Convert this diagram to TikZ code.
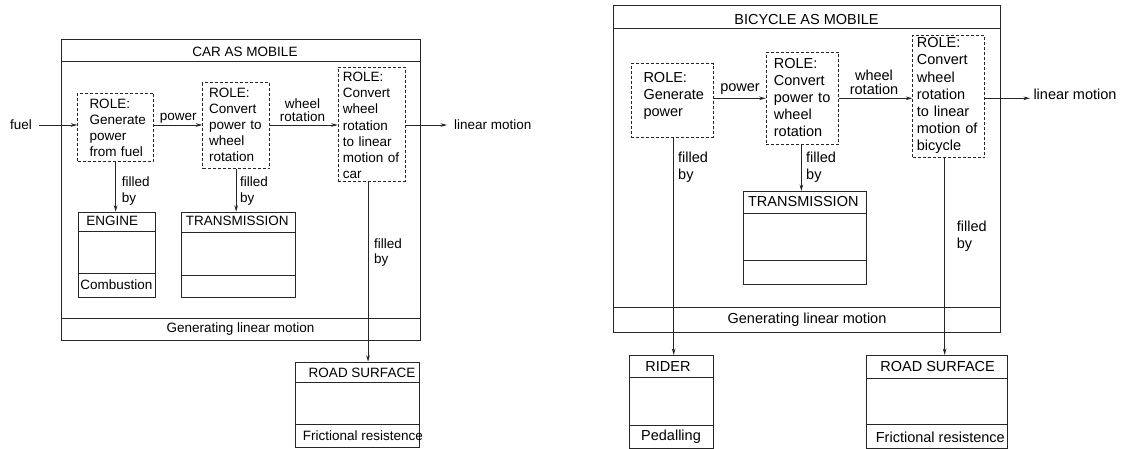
\documentclass[tikz,border=0pt]{standalone}
\usepackage{fontspec}
\setmainfont{Liberation Sans}
\usetikzlibrary{arrows.meta}
\newcommand\carfont{\fontsize{13.5}{16.2}\selectfont}
\newcommand\bikefont{\fontsize{14.5}{17.1}\selectfont}
\begin{document}
\begin{tikzpicture}[x=1pt,y=-1pt,
  ln/.style={line width=0.8pt, draw=black!85},
  outerbox/.style={ln, rectangle, inner sep=0pt, anchor=north west},
  clsbox/.style={ln, rectangle, inner sep=0pt, anchor=north west},
  rolebox/.style={draw=black!85, line width=0.7pt, dash pattern=on 3pt off 2pt, rectangle, inner sep=0pt, anchor=north west},
  mtxt/.style={inner sep=0pt, text width=90pt, align=left, anchor=base west},
  lbl/.style={inner sep=0pt},
  elbl/.style={inner sep=0pt, align=center},
  endlbl/.style={inner ysep=0pt},
  arr/.style={line width=0.8pt, draw=black!85, -{Stealth[length=6.5pt,width=3.6pt]}},
]
\useasboundingbox (0,0) rectangle (1123,449);

% ================= CAR =================
\begin{scope}[font=\carfont]
\node[outerbox, minimum width=358.5pt, minimum height=300.7pt] (car) at (61,39.3) {};
\draw[ln] (car.west |- 0,61) -- (car.east |- 0,61);
\draw[ln] (car.west |- 0,318.3) -- (car.east |- 0,318.3);
\node[lbl] (cart) at (245,51.7) {CAR AS MOBILE};
\node[lbl] (carb) at (240.5,329) {Generating linear motion};

% role boxes
\node[rolebox, minimum width=76pt, minimum height=68pt] (r1) at (77.3,92.7) {};
\node[mtxt] (r1t) at (89.3,108.2) {ROLE:\\Generate\\power\\from fuel};
\node[rolebox, minimum width=67pt, minimum height=86pt] (r2) at (202.3,82.3) {};
\node[mtxt] (r2t) at (209,97.2) {ROLE:\\Convert\\power to\\wheel\\rotation};
\node[rolebox, minimum width=67pt, minimum height=114pt] (r3) at (337.7,66.7) {};
\node[mtxt] (r3t) at (342.7,81.6) {ROLE:\\Convert\\wheel\\rotation\\to linear\\motion of\\car};

% flow
\node[endlbl, inner xsep=6.5pt] (fuel) at (21,125) {fuel};
\node[endlbl, inner xsep=7pt, anchor=west] (lm1) at (447,125) {linear motion};
\draw[arr] (fuel.east) -- (fuel.east -| r1.west);
\draw[arr] (r1.east |- fuel.east) -- (r2.west |- fuel.east);
\node[lbl] (pw1) at (178.3,118.3) {power};
\draw[arr] (r2.east |- fuel.east) -- (r3.west |- fuel.east);
\node[elbl, font=\fontsize{13.5}{13.4}\selectfont] (wr1) at (302.5,110) {wheel\\rotation};
\draw[arr] (r3.east |- lm1.west) -- (lm1.west);

% class boxes
\node[clsbox, minimum width=77.3pt, minimum height=85pt] (eng) at (77.7,211.7) {};
\draw[ln] (eng.west |- 0,231) -- (eng.east |- 0,231);
\draw[ln] (eng.west |- 0,273.3) -- (eng.east |- 0,273.3);
\node[lbl] (engt) at (112.3,221) {ENGINE};
\node[lbl] (engb) at (116.3,284.5) {Combustion};

\node[clsbox, minimum width=114pt, minimum height=85.6pt] (tr1) at (181,211.7) {};
\draw[ln] (tr1.west |- 0,232.3) -- (tr1.east |- 0,232.3);
\draw[ln] (tr1.west |- 0,275.7) -- (tr1.east |- 0,275.7);
\node[lbl] (tr1t) at (237.2,221) {TRANSMISSION};

\node[clsbox, minimum width=124.3pt, minimum height=85pt] (rd1) at (295,361.7) {};
\draw[ln] (rd1.west |- 0,382.7) -- (rd1.east |- 0,382.7);
\draw[ln] (rd1.west |- 0,424) -- (rd1.east |- 0,424);
\node[lbl] (rd1t) at (362,372.7) {ROAD SURFACE};
\node[lbl] (rd1b) at (363,435.5) {Frictional resistence};

% filled by
\draw[arr] (r1.south) -- (r1.south |- eng.north);
\node[mtxt, font=\fontsize{13.5}{15.6}\selectfont] (fb1) at (121.7,186.7) {filled\\by};
\draw[arr] (r2.south) -- (r2.south |- tr1.north);
\node[mtxt, font=\fontsize{13.5}{15.6}\selectfont] (fb2) at (240,186.7) {filled\\by};
\draw[arr] ([xshift=-3.5pt]r3.south) -- ([xshift=-3.5pt]r3.south |- rd1.north);
\node[mtxt, font=\fontsize{13.5}{15.6}\selectfont] (fb3) at (374,248.3) {filled\\by};
\end{scope}

% ================= BICYCLE =================
\begin{scope}[font=\bikefont]
\node[outerbox, minimum width=387.3pt, minimum height=326.5pt] (bike) at (612.7,5) {};
\draw[ln] (bike.west |- 0,28.3) -- (bike.east |- 0,28.3);
\draw[ln] (bike.west |- 0,307.8) -- (bike.east |- 0,307.8);
\node[lbl] (biket) at (806.5,19.5) {BICYCLE AS MOBILE};
\node[lbl] (bikeb) at (807,319.7) {Generating linear motion};

\node[rolebox, minimum width=82.3pt, minimum height=73.4pt] (b1) at (631,63.3) {};
\node[mtxt] (b1t) at (643.3,82.2) {ROLE:\\Generate\\power};
\node[rolebox, minimum width=72.6pt, minimum height=92.3pt] (b2) at (765.7,51.7) {};
\node[mtxt] (b2t) at (773.7,68.5) {ROLE:\\Convert\\power to\\wheel\\rotation};
\node[rolebox, minimum width=72pt, minimum height=122.3pt] (b3) at (912.3,35) {};
\node[mtxt] (b3t) at (916.7,47.9) {ROLE:\\Convert\\wheel\\rotation\\to linear\\motion of\\bicycle};

\node[endlbl, inner xsep=3.3pt, anchor=west] (lm2) at (1030,94.5) {linear motion};
\coordinate (ya) at (1030,98.3);
\draw[arr] (b1.east |- ya) -- (b2.west |- ya);
\node[lbl] (pw2) at (740,89) {power};
\draw[arr] (b2.east |- ya) -- (b3.west |- ya);
\node[elbl, font=\fontsize{14.5}{14.5}\selectfont] (wr2) at (874,82.5) {wheel\\rotation};
\draw[arr] (b3.east |- ya) -- (ya);

\node[clsbox, minimum width=123.3pt, minimum height=93pt] (tr2) at (742.7,191) {};
\draw[ln] (tr2.west |- 0,213.3) -- (tr2.east |- 0,213.3);
\draw[ln] (tr2.west |- 0,260.5) -- (tr2.east |- 0,260.5);
\node[lbl] (tr2t) at (803.3,201.7) {TRANSMISSION};

\node[clsbox, minimum width=83.2pt, minimum height=92.6pt] (rider) at (629.4,355) {};
\draw[ln] (rider.west |- 0,377) -- (rider.east |- 0,377);
\draw[ln] (rider.west |- 0,425.6) -- (rider.east |- 0,425.6);
\node[lbl] (ridert) at (668,367) {RIDER};
\node[lbl] (riderb) at (671,437) {Pedalling};

\node[clsbox, minimum width=141.6pt, minimum height=92.6pt] (rd2) at (865.5,355) {};
\draw[ln] (rd2.west |- 0,378.7) -- (rd2.east |- 0,378.7);
\draw[ln] (rd2.west |- 0,423.9) -- (rd2.east |- 0,423.9);
\node[lbl] (rd2t) at (937.6,366.5) {ROAD SURFACE};
\node[lbl] (rd2b) at (940.3,437) {Frictional resistence};

\draw[arr] ([xshift=1.2pt]b1.south) -- ([xshift=1.2pt]b1.south |- rider.north);
\node[mtxt, font=\fontsize{14.5}{17}\selectfont] (fb4) at (678,163) {filled\\by};
\draw[arr] ([xshift=-1pt]b2.south) -- ([xshift=-1pt]b2.south |- tr2.north);
\node[mtxt, font=\fontsize{14.5}{17}\selectfont] (fb5) at (806,163) {filled\\by};
\draw[arr] ([xshift=-4pt]b3.south) -- ([xshift=-4pt]b3.south |- rd2.north);
\node[mtxt, font=\fontsize{14.5}{17}\selectfont] (fb6) at (956.7,231.7) {filled\\by};
\end{scope}
\end{tikzpicture}
\end{document}
